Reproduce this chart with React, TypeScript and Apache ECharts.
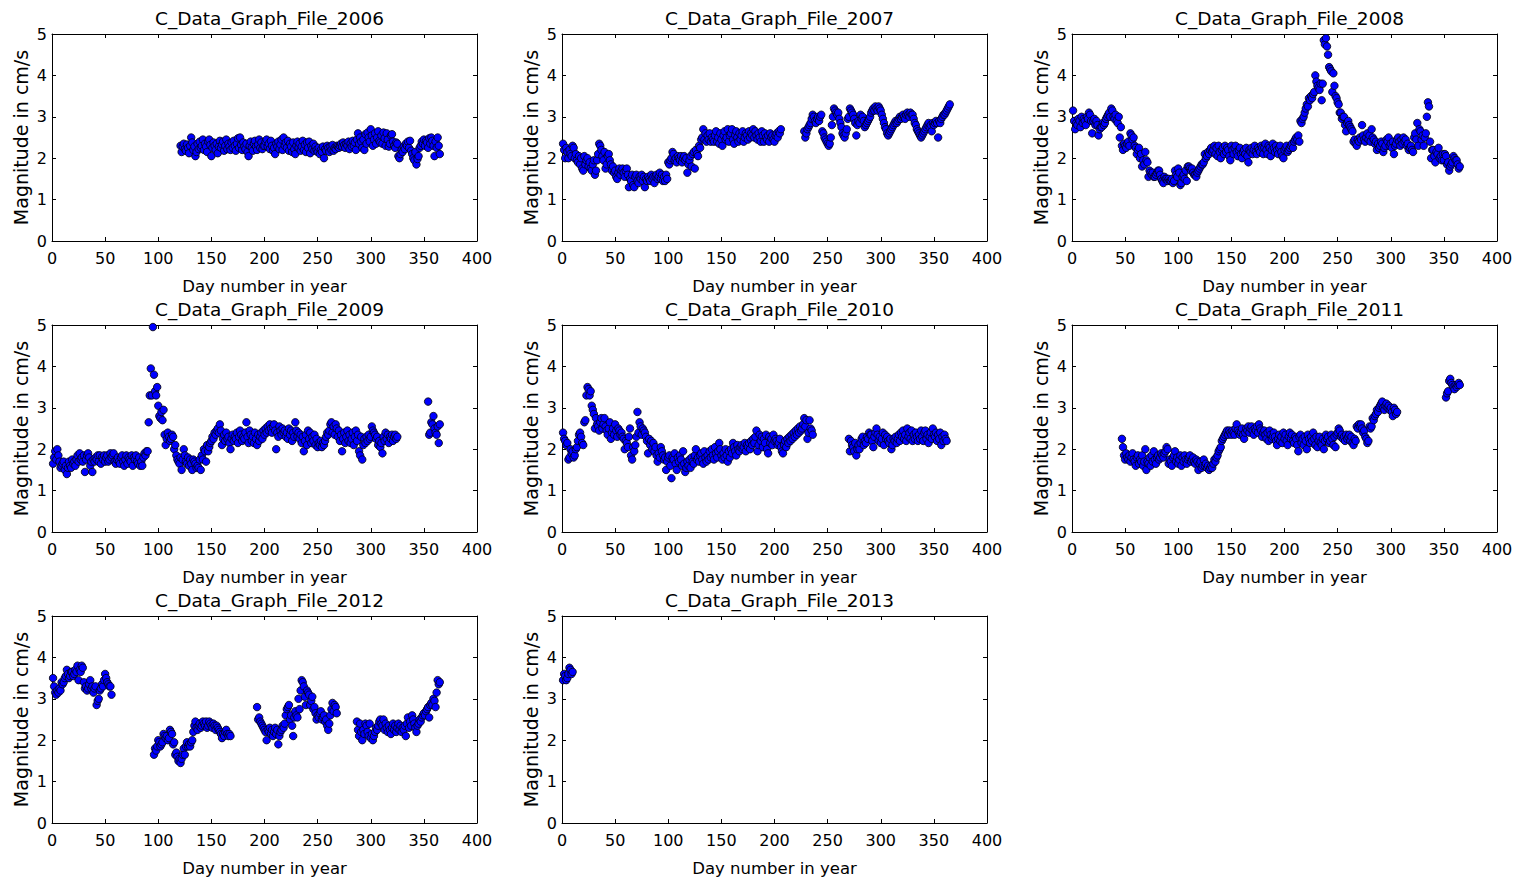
import React, { useEffect, useRef } from "react";
import * as echarts from "echarts";

// ---------- Data (day number in year -> magnitude in cm/s) ----------
const panelTitles = [
  "C_Data_Graph_File_2006",
  "C_Data_Graph_File_2007",
  "C_Data_Graph_File_2008",
  "C_Data_Graph_File_2009",
  "C_Data_Graph_File_2010",
  "C_Data_Graph_File_2011",
  "C_Data_Graph_File_2012",
  "C_Data_Graph_File_2013",
];

const xAxisName = "Day number in year";
const yAxisName = "Magnitude in cm/s";
const xMin = 0, xMax = 400, xStep = 50;
const yMin = 0, yMax = 5, yStep = 1;

// 2006
const start2006 = 121;
const mag2006 = [
  2.30, 2.15, 2.28, 2.35, 2.22, 2.18, 2.33, 2.25, 2.12, 2.30,
  2.50, 2.38, 2.20, 2.28, 2.05, 2.15, 2.35, 2.22, 2.40, 2.25,
  2.30, 2.45, 2.20, 2.35, 2.28, 2.15, 2.40, 2.45, 2.32, 2.05,
  2.25, 2.38, 2.30, 2.20, 2.35, 2.12, 2.28, 2.42, 2.25, 2.33,
  2.40, 2.18, 2.30, 2.45, 2.22, 2.35, 2.28, 2.20, 2.38, 2.25,
  2.42, 2.30, 2.18, 2.35, 2.48, 2.25, 2.50, 2.32, 2.20, 2.38,
  2.28, 2.22, 2.35, 2.15, 2.05, 2.30, 2.40, 2.25, 2.18, 2.35,
  2.42, 2.28, 2.20, 2.33, 2.45, 2.25, 2.38, 2.22, 2.30, 2.30,
  2.40, 2.45, 2.28, 2.35, 2.22, 2.42, 2.30, 2.18, 2.25, 2.10,
  2.35, 2.28, 2.40, 2.22, 2.33, 2.45, 2.20, 2.50, 2.30, 2.38,
  2.25, 2.42, 2.18, 2.35, 2.28, 2.15, 2.38, 2.22, 2.10, 2.30,
  2.40, 2.25, 2.35, 2.18, 2.28, 2.42, 2.20, 2.33, 2.15, 2.38,
  2.25, 2.40, 2.12, 2.30, 2.22, 2.35, 2.18, 2.28, 2.20, 2.15,
  2.25, 2.10, 2.20, 2.15, 2.28, 2.00, 2.22, 2.18, 2.30, 2.25,
  2.15, 2.28, 2.20, 2.32, 2.18, 2.25, 2.22, 2.30, 2.28, 2.25,
  2.30, 2.35, 2.28, 2.38, 2.32, 2.25, 2.35, 2.30, 2.40, 2.22,
  2.35, 2.28, 2.42, 2.30, 2.38, 2.20, 2.45, 2.60, 2.35, 2.50,
  2.40, 2.25, 2.45, 2.20, 2.58, 2.35, 2.62, 2.50, 2.40, 2.70,
  2.55, 2.30, 2.45, 2.60, 2.35, 2.50, 2.65, 2.42, 2.38, 2.55,
  2.35, 2.62, 2.48, 2.30, 2.60, 2.45, 2.28, 2.35, 2.55, 2.58,
  2.40, 2.30, 2.25, 2.38, 2.35, 2.05, 2.00, 2.10, 2.20, 2.15,
  2.28, 2.22, 2.35, 2.30, 2.40, 2.25, 2.42, 2.18, 2.10, 2.00,
  1.95, 2.15, 1.85, 1.98, 2.05, 2.25, 2.30, 2.40, 2.35, 2.45,
  2.30, 2.42, 2.38, 2.25, 2.48, 2.35, 2.50, 2.42, 2.30, 2.05,
  2.40, 2.25, 2.50, 2.30, 2.10,
];

// 2007
const start2007a = 1;
const mag2007a = [
  2.35, 2.20, 2.00, 2.25, 2.15, 2.00, 2.20, 2.10, 2.05, 2.30,
  2.25, 2.00, 2.10, 1.95, 1.90, 2.05, 1.85, 2.00, 1.75, 1.70,
  2.05, 1.85, 1.95, 2.00, 1.80, 1.90, 1.75, 1.70, 1.85, 1.95,
  1.60, 1.70, 1.95, 2.10, 2.35, 2.30, 2.20, 2.05, 1.95, 2.15,
  1.75, 1.85, 2.05, 2.10, 1.95, 1.85, 1.70, 1.80, 1.65, 1.70,
  1.55, 1.50, 1.65, 1.75, 1.60, 1.70, 1.75, 1.65, 1.55, 1.70,
  1.75, 1.60, 1.30, 1.50, 1.45, 1.60, 1.35, 1.30, 1.55, 1.60,
  1.45, 1.40, 1.55, 1.50, 1.60, 1.45, 1.55, 1.30, 1.50, 1.45,
  1.55, 1.50, 1.45, 1.60, 1.50, 1.55, 1.40, 1.55, 1.60, 1.50,
  1.55, 1.65, 1.50, 1.60, 1.45, 1.55, 1.45, 1.60, 1.50, 1.90,
  1.85, 1.95, 2.00, 2.15, 2.10, 1.95, 2.00, 1.90, 2.05, 2.00,
  1.95, 2.05, 1.90, 2.00, 2.05, 1.95, 2.00, 1.65, 1.85, 1.95,
  2.05, 1.80, 2.10, 2.15, 1.75, 2.20, 2.10, 2.05, 2.30, 2.25,
  2.45, 2.50, 2.70, 2.45, 2.60, 2.40, 2.55, 2.45, 2.60, 2.40,
  2.50, 2.45, 2.40, 2.55, 2.65, 2.40, 2.50, 2.35, 2.60, 2.45,
  2.30, 2.55, 2.65, 2.45, 2.50, 2.70, 2.40, 2.55, 2.60, 2.70,
  2.45, 2.35, 2.55, 2.65, 2.50, 2.40, 2.60, 2.45, 2.55, 2.65,
  2.40, 2.50, 2.60, 2.55, 2.45, 2.65, 2.50, 2.60, 2.55, 2.70,
  2.50, 2.65, 2.55, 2.45, 2.60, 2.50, 2.40, 2.65, 2.55, 2.40,
  2.60, 2.50, 2.45, 2.55, 2.40, 2.60, 2.50, 2.55, 2.45, 2.40,
  2.55, 2.60, 2.50, 2.65, 2.60, 2.70,
];
const start2007b = 228;
const mag2007b = [
  2.65, 2.50, 2.60, 2.70, 2.75, 2.80, 2.85, 2.95, 3.05, 3.00, 2.90, 2.85, 2.95,
  3.00, 2.90, 3.00, 3.05, 2.65, 2.60, 2.50, 2.45, 2.40, 2.35,
  2.30, 2.35, 2.50, 2.80, 3.00, 3.20, 3.15, 3.10, 3.05, 3.10,
  2.95, 2.85, 2.75, 2.60, 2.55, 2.50, 2.60, 2.70, 2.95, 3.00,
  3.20, 3.15, 3.10, 3.05, 2.95, 2.85, 2.55, 2.80, 2.90, 2.85,
  3.05, 2.95, 3.00, 2.90, 2.75, 2.80, 2.85, 2.90, 2.95, 3.00,
  3.10, 3.15, 3.20, 3.15, 3.25, 3.20, 3.15, 3.25, 3.20, 3.15,
  3.05, 2.95, 2.85, 2.75, 2.70, 2.60, 2.55, 2.60, 2.65, 2.70,
  2.75, 2.80, 2.85, 2.90, 2.85, 2.90, 2.95, 3.00, 2.95, 3.00,
  3.05, 3.00, 2.95, 3.05, 3.10, 3.05, 3.00, 3.10, 3.05, 3.05,
  2.95, 2.85, 2.80, 2.70, 2.65, 2.60, 2.55, 2.50, 2.55, 2.60,
  2.65, 2.70, 2.75, 2.80, 2.85, 2.75, 2.80, 2.65, 2.85, 2.80,
  2.85, 2.90, 2.85, 2.50, 2.90, 2.85, 2.95, 3.00, 3.05, 3.05,
  3.10, 3.15, 3.20, 3.25, 3.30,
];

// 2008
const start2008 = 1;
const mag2008 = [
  3.15, 2.90, 2.70, 2.85, 2.80, 2.95, 2.90, 2.75, 3.00, 2.85,
  2.95, 2.90, 2.80, 3.00, 2.95, 3.10, 3.05, 2.90, 2.60, 2.90,
  2.95, 2.80, 2.90, 2.80, 2.55, 2.70, 2.75, 2.75, 2.85, 2.80,
  2.85, 2.95, 3.00, 3.05, 3.10, 3.00, 3.20, 3.15, 3.00, 2.95,
  3.05, 2.90, 2.85, 3.00, 2.50, 2.75, 2.30, 2.20, 2.35, 2.30,
  2.25, 2.35, 2.40, 2.30, 2.60, 2.55, 2.45, 2.50, 2.30, 2.25,
  2.10, 2.20, 2.25, 2.00, 2.10, 1.80, 1.95, 1.85, 2.15, 1.95,
  1.90, 1.55, 1.70, 1.65, 1.60, 1.65, 1.55, 1.55, 1.60, 1.65,
  1.70, 1.70, 1.60, 1.50, 1.45, 1.40, 1.55, 1.50, 1.50, 1.45,
  1.50, 1.45, 1.45, 1.50, 1.40, 1.45, 1.70, 1.60, 1.55, 1.75,
  1.65, 1.35, 1.40, 1.55, 1.60, 1.50, 1.70, 1.45, 1.80, 1.80,
  1.75, 1.70, 1.75, 1.65, 1.60, 1.60, 1.55, 1.65, 1.70, 1.75,
  1.80, 1.85, 1.85, 1.90, 2.10, 2.00, 2.05, 2.15, 2.10, 2.20,
  2.25, 2.15, 2.20, 2.30, 2.10, 2.25, 2.05, 2.30, 2.15, 2.00,
  2.20, 2.25, 2.10, 2.30, 2.15, 2.25, 2.20, 2.05, 1.95, 2.30,
  2.20, 2.10, 2.25, 2.30, 2.15, 2.05, 2.20, 2.25, 2.10, 2.00,
  2.15, 2.20, 2.10, 2.25, 2.05, 1.90, 2.20, 2.15, 2.25, 2.10,
  2.20, 2.30, 2.15, 2.10, 2.25, 2.20, 2.15, 2.30, 2.25, 2.10,
  2.25, 2.35, 2.20, 2.10, 2.30, 2.25, 2.05, 2.20, 2.35, 2.25,
  2.15, 2.30, 2.20, 2.10, 2.25, 2.30, 2.15, 2.05, 2.00, 2.20,
  2.25, 2.30, 2.15, 2.20, 2.25, 2.30, 2.35, 2.25, 2.40, 2.45,
  2.50, 2.45, 2.55, 2.40, 2.90, 2.85, 2.95, 3.00, 3.10, 3.20,
  3.30, 3.25, 3.45, 3.40, 3.50, 3.45, 3.55, 3.60, 4.00, 3.85,
  3.75, 3.70, 3.65, 3.80, 3.40, 3.80, 4.85, 4.75, 4.90, 4.70,
  4.50, 4.20, 4.15, 4.10, 3.60, 4.05, 3.75, 3.50, 3.45, 3.35,
  3.30, 3.10, 3.10, 2.95, 3.00, 3.00, 2.80, 2.65, 2.85, 2.90,
  2.80, 2.75, 2.70, 2.65, 2.40, 2.45, 2.35, 2.30, 2.45, 2.40,
  2.50, 2.45, 2.80, 2.55, 2.45, 2.40, 2.50, 2.60, 2.45, 2.55,
  2.40, 2.70, 2.50, 2.45, 2.35, 2.40, 2.20, 2.35, 2.25, 2.30,
  2.40, 2.35, 2.15, 2.25, 2.30, 2.45, 2.40, 2.50, 2.30, 2.35,
  2.25, 2.40, 2.10, 2.30, 2.35, 2.45, 2.50, 2.40, 2.30, 2.45,
  2.35, 2.50, 2.40, 2.45, 2.30, 2.35, 2.20, 2.25, 2.30, 2.20,
  2.15, 2.50, 2.60, 2.45, 2.85, 2.30, 2.70, 2.65, 2.45, 2.55,
  2.30, 2.50, 2.60, 3.00, 3.35, 3.25, 2.40, 2.00, 2.20, 2.20,
  2.05, 1.90, 2.15, 2.10, 2.25, 2.00, 2.05, 1.95, 2.10, 1.95,
  2.10, 2.05, 1.85, 1.90, 1.70, 1.80, 1.85, 1.90, 2.05, 2.00,
  1.95, 1.95, 1.85, 1.75, 1.80,
];

// 2009
const start2009a = 1;
const mag2009a = [
  1.65, 1.80, 1.95, 1.75, 2.00, 1.85, 1.70, 1.55, 1.60, 1.65,
  1.70, 1.50, 1.60, 1.40, 1.55, 1.70, 1.60, 1.55, 1.75, 1.65,
  1.70, 1.60, 1.75, 1.85, 1.70, 1.90, 1.75, 1.80, 1.70, 1.85,
  1.45, 1.75, 1.85, 1.90, 1.80, 1.60, 1.70, 1.45, 1.75, 1.70,
  1.80, 1.75, 1.85, 1.70, 1.85, 1.65, 1.80, 1.75, 1.85, 1.70,
  1.80, 1.85, 1.70, 1.75, 1.90, 1.80, 1.85, 1.90, 1.70, 1.65,
  1.75, 1.80, 1.70, 1.65, 1.80, 1.85, 1.70, 1.60, 1.75, 1.85,
  1.65, 1.80, 1.75, 1.70, 1.85, 1.60, 1.80, 1.75, 1.85, 1.70,
  1.65, 1.80, 1.60, 1.70, 1.60, 1.80, 1.90, 1.85, 1.95, 1.95,
  2.65, 3.30, 3.95, 3.30, 4.95, 3.80, 3.40, 3.30, 3.50, 3.05,
  2.80, 2.75, 2.90, 2.70, 2.95, 2.35, 2.10, 2.25, 2.40, 2.30,
  2.20, 2.25, 2.35, 2.30, 2.00, 2.10, 1.85, 1.75, 1.70, 1.65,
  1.80, 1.50, 1.75, 2.00, 1.85, 1.70, 1.65, 1.80, 1.60, 1.75,
  1.65, 1.50, 1.75, 1.70, 1.65, 1.55, 1.60, 1.55, 1.75, 1.50,
  1.85, 1.75, 2.00, 1.95, 1.70, 2.10, 1.95, 2.05, 2.15, 2.20,
  2.30, 2.25, 2.40, 2.35, 2.45, 2.50, 2.40, 2.60, 2.45, 2.10,
  2.25, 2.35, 2.20, 2.40, 2.25, 2.30, 2.15, 2.00, 2.25, 2.35,
  2.20, 2.30, 2.25, 2.40, 2.15, 2.30, 2.45, 2.35, 2.20, 2.30,
  2.25, 2.40, 2.65, 2.30, 2.15, 2.45, 2.35, 2.20, 2.30, 2.15,
  2.40, 2.25, 2.10, 2.35, 2.20, 2.30, 2.40, 2.25, 2.45, 2.35,
  2.50, 2.40, 2.55, 2.45, 2.60, 2.50, 2.40, 2.55, 2.60, 2.45,
  2.00, 2.40, 2.30, 2.55, 2.45, 2.35, 2.50, 2.40, 2.45, 2.30,
  2.40, 2.25, 2.50, 2.35, 2.45, 2.20, 2.40, 2.30, 2.65, 2.45,
  2.30, 2.40, 2.25, 2.35, 2.15, 2.30, 1.95, 2.20, 2.35, 2.10,
  2.45, 2.25, 2.40, 2.15, 2.30, 2.20, 2.35, 2.10, 2.25, 2.05,
  2.15, 2.10, 2.20, 2.05, 2.15, 2.10, 2.20, 2.30, 2.40, 2.35,
  2.45, 2.60, 2.65, 2.40, 2.55, 2.35, 2.60, 2.50, 2.30, 2.45,
  2.20, 2.35, 1.95, 2.25, 2.40, 2.15, 2.30, 2.45, 2.20, 2.35,
  2.15, 2.25, 2.40, 2.10, 2.30, 2.45, 2.20, 2.35, 1.95, 1.85,
  2.30, 1.75, 2.10, 2.25, 2.15, 2.30, 2.20, 2.35, 2.25, 2.30,
  2.55, 2.45, 2.40, 2.35, 2.25, 2.30, 2.10, 2.20, 2.05, 2.15,
  1.90, 2.30, 2.20, 2.40, 2.25, 2.35, 2.15, 2.30, 2.25, 2.35,
  2.20, 2.30, 2.35, 2.25, 2.30,
];
const start2009b = 354;
const mag2009b = [3.15, 2.35, 2.40, 2.65, 2.60, 2.80, 2.50, 2.40, 2.35, 2.55, 2.15, 2.60];

// 2010
const start2010a = 1;
const mag2010a = [
  2.40, 2.25, 2.20, 2.10, 2.15, 1.75, 1.80, 2.00, 1.90, 1.95,
  1.80, 1.85, 2.00, 2.05, 2.20, 2.35, 2.40, 2.30, 2.15, 2.10,
  2.65, 2.70, 3.30, 3.50, 3.45, 3.30, 3.40, 3.05, 2.95, 2.85,
  2.50, 2.75, 2.60, 2.55, 2.45, 2.65, 2.75, 2.50, 2.60, 2.75,
  2.55, 2.45, 2.35, 2.50, 2.65, 2.25, 2.40, 2.50, 2.35, 2.60,
  2.45, 2.30, 2.50, 2.45, 2.35, 2.40, 2.30, 2.25, 2.00, 2.20,
  2.15, 2.05, 2.30, 2.50, 1.85, 1.75, 2.05, 1.95, 2.10, 2.30,
  2.90, 2.40, 2.65, 2.55, 2.35, 2.50, 2.45, 2.40, 2.30, 2.20,
  1.90, 2.25, 2.10, 2.20, 2.00, 2.15, 1.95, 2.05, 1.85, 1.70,
  1.90, 1.80, 2.05, 1.95, 1.85, 1.75, 1.80, 1.50, 1.70, 1.80,
  1.85, 1.60, 1.30, 1.80, 1.75, 1.90, 1.65, 1.50, 1.80, 1.70,
  1.85, 1.75, 1.60, 1.95, 1.65, 1.45, 1.55, 1.70, 1.60, 1.75,
  1.55, 1.80, 1.70, 1.65, 1.85, 2.00, 1.75, 1.80, 1.70, 1.85,
  1.90, 1.75, 1.65, 1.95, 1.80, 1.70, 1.85, 1.75, 1.95, 1.80,
  2.00, 1.85, 1.75, 2.05, 1.90, 1.80, 1.95, 2.15, 2.00, 1.85,
  1.75, 1.90, 1.80, 2.00, 1.85, 1.70, 1.95, 1.80, 2.00, 1.90,
  2.15, 2.05, 1.95, 1.85, 2.10, 2.00, 1.95, 2.05, 2.10, 2.00,
  2.05, 2.15, 1.95, 2.10, 2.05, 2.15, 2.00, 2.20, 2.10, 2.25,
  2.15, 2.30, 2.45, 1.95, 2.10, 2.35, 2.20, 2.30, 2.05, 2.25,
  2.15, 2.35, 2.00, 1.90, 2.30, 2.15, 2.25, 2.10, 2.35, 2.20,
  2.25, 2.20, 2.10, 2.15, 2.25, 2.05, 1.95, 1.90, 2.10, 2.20,
  2.05, 2.25, 2.15, 2.30, 2.20, 2.35, 2.25, 2.40, 2.30, 2.45,
  2.35, 2.50, 2.40, 2.55, 2.45, 2.50, 2.60, 2.75, 2.55, 2.70,
  2.25, 2.40, 2.70, 2.50, 2.45, 2.35,
];
const start2010b = 270;
const mag2010b = [
  2.25, 1.95, 2.20, 2.10, 2.05, 1.95, 2.15, 1.85, 2.00, 2.10, 2.00,
  2.15, 2.25, 2.30, 2.10, 2.20, 2.15, 2.30, 2.25, 2.40, 2.35,
  2.35, 2.20, 2.05, 2.30, 2.40, 2.50, 2.35, 2.20, 2.30, 2.15,
  2.25, 2.40, 2.10, 2.35, 2.25, 2.30, 2.20, 2.15, 2.25, 2.00,
  2.10, 2.25, 2.20, 2.30, 2.15, 2.25, 2.35, 2.20, 2.40, 2.30,
  2.45, 2.25, 2.35, 2.20, 2.50, 2.30, 2.40, 2.25, 2.45, 2.20,
  2.35, 2.25, 2.40, 2.30, 2.20, 2.35, 2.25, 2.45, 2.30, 2.20,
  2.40, 2.45, 2.25, 2.35, 2.15, 2.30, 2.40, 2.25, 2.50, 2.35,
  2.30, 2.40, 2.20, 2.35, 2.25, 2.40, 2.10, 2.30, 2.20, 2.35, 2.25, 2.20,
];

// 2011
const start2011a = 47;
const mag2011a = [
  2.25, 2.05, 1.85, 1.75,
  1.90, 1.80, 1.75, 1.85, 1.70, 1.80, 1.90, 1.75, 1.70, 1.60,
  1.80, 1.85, 1.65, 1.75, 1.70, 1.85, 1.60, 1.70, 2.00, 1.50,
  1.70, 1.65, 1.80, 1.60, 1.85, 1.70, 1.95, 1.75, 1.65, 1.80,
  1.85, 1.75, 1.80, 1.90, 1.85, 1.80, 1.90, 1.95, 2.05, 2.00,
  1.65, 1.75, 1.70, 1.60, 1.80, 1.85, 1.95, 1.70, 1.80, 1.65,
  1.75, 1.85, 1.60, 1.80, 1.70, 1.85, 1.75, 1.65, 1.75, 1.80,
  1.85, 1.70, 1.75, 1.80, 1.70, 1.65, 1.75, 1.70, 1.50, 1.65,
  1.70, 1.55, 1.60, 1.75, 1.60, 1.65, 1.55, 1.60, 1.50, 1.55,
  1.60, 1.55, 1.65, 1.75, 1.70, 1.80, 1.85, 1.95, 2.00, 2.05,
  2.20, 2.25, 2.30, 2.35, 2.40, 2.45, 2.35, 2.45, 2.40, 2.35,
  2.45, 2.40, 2.35, 2.50, 2.60, 2.45, 2.40, 2.35, 2.40, 2.50,
  2.35, 2.25, 2.40, 2.50, 2.45, 2.55, 2.40, 2.50, 2.55, 2.45,
  2.35, 2.50, 2.45, 2.55, 2.40, 2.60, 2.50, 2.45, 2.30, 2.40,
  2.45, 2.35, 2.25, 2.40, 2.20, 2.45, 2.35, 2.25, 2.30, 2.40,
  2.30, 2.20, 2.10, 2.25, 2.35, 2.20, 2.30, 2.15, 2.40, 2.25,
  2.35, 2.20, 2.10, 2.30, 2.40, 2.25, 2.35, 2.20, 2.15, 2.30,
  2.25, 2.10, 1.95, 2.30, 2.35, 2.15, 2.25, 2.10, 2.30, 2.20,
  2.00, 2.35, 2.25, 2.15, 2.30, 2.20, 2.40, 2.25, 2.10, 2.30,
  2.05, 2.20, 2.30, 2.15, 2.10, 2.25, 2.00, 2.20, 2.35, 2.25,
  2.30, 2.15, 2.20, 2.35, 2.25, 2.10, 2.30, 2.05, 2.35, 2.40,
  2.50, 2.45, 2.30, 2.35, 2.25, 2.30, 2.20, 2.35, 2.25, 2.30,
  2.35, 2.20, 2.30, 2.15, 2.10, 2.25, 2.20, 2.55, 2.50, 2.60,
  2.55, 2.60, 2.50, 2.40, 2.45, 2.30, 2.25, 2.15, 2.20, 2.55,
  2.50, 2.55, 2.75, 2.70, 2.80, 2.85, 2.95, 2.90, 3.00, 3.05,
  3.10, 3.15, 3.00, 2.95, 3.05, 3.10, 3.00, 3.05, 2.95, 3.00,
  2.90, 2.80, 3.00, 2.95, 2.85, 2.90,
];
const start2011b = 352;
const mag2011b = [3.25, 3.35, 3.40, 3.65, 3.70, 3.60, 3.55, 3.50, 3.45, 3.55, 3.50, 3.55, 3.60, 3.55];

// 2012
const start2012a = 1;
const mag2012a = [
  3.50, 3.30, 3.15, 3.10, 3.20, 3.15, 3.25, 3.20, 3.40, 3.35,
  3.40, 3.50, 3.55, 3.70, 3.60, 3.50, 3.55, 3.65, 3.65, 3.55,
  3.60, 3.70, 3.65, 3.80, 3.45, 3.70, 3.65, 3.80, 3.75, 3.40,
  3.25, 3.30, 3.20, 3.25, 3.35, 3.45, 3.25, 3.30, 3.15, 3.25,
  3.30, 2.85, 2.95, 3.00, 3.20, 3.25, 3.35, 3.30, 3.45, 3.60,
  3.50, 3.40, 3.35, 3.30, 3.30, 3.10,
];
const start2012b = 96;
const mag2012b = [
  1.65, 1.80, 1.75, 1.85, 2.00,
  1.95, 1.85, 1.90, 1.95, 2.15, 2.10, 2.05, 2.10, 2.00, 2.05,
  2.25, 2.20, 2.15, 1.90, 1.95, 1.65, 1.70, 1.60, 1.50, 1.55,
  1.45, 1.55, 1.65, 1.80, 1.65, 1.85, 1.95, 1.85, 1.90, 1.85,
  1.95, 2.00, 2.20, 2.35, 2.45, 2.30, 2.25, 2.35, 2.40, 2.30,
  2.35, 2.45, 2.40, 2.35, 2.45, 2.30, 2.35, 2.45, 2.40, 2.35,
  2.30, 2.40, 2.35, 2.25, 2.35, 2.30, 2.25, 2.20, 2.15, 2.05,
  2.15, 2.10, 2.20, 2.25, 2.15, 2.10, 2.15, 2.10,
];
const start2012c = 193;
const mag2012c = [
  2.80, 2.50, 2.55, 2.45, 2.40, 2.35, 2.30, 2.25,
  2.20, 2.00, 2.25, 2.20, 2.30, 2.15, 2.25, 2.10, 2.20, 2.30,
  2.15, 2.25, 1.90, 2.10, 2.20, 2.25, 2.35, 2.30, 2.40, 2.60,
  2.75, 2.80, 2.85, 2.50, 2.60, 2.35, 2.10, 2.55, 2.70, 2.60,
  2.55, 3.00, 2.75, 3.20, 3.45, 3.40, 3.30, 3.05, 2.85, 3.20,
  3.15, 3.10, 2.85, 2.95, 3.05, 2.75, 2.80, 2.65, 2.50, 2.60,
  2.55, 2.65, 2.70, 2.50, 2.55, 2.60, 2.45, 2.50, 2.35, 2.25,
  2.40, 2.60, 2.75, 2.90, 2.70, 2.85, 2.80, 2.65,
];
const start2012d = 287;
const mag2012d = [
  2.45, 2.25, 2.10, 2.40,
  2.20, 2.00, 2.25, 2.15, 2.40, 2.35, 2.20, 2.10, 2.40, 2.05,
  2.15, 2.00, 2.10, 2.20, 2.30, 2.25, 2.35, 2.45, 2.50, 2.40,
  2.35, 2.50, 2.25, 2.40, 2.30, 2.20, 2.35, 2.25, 2.15, 2.30,
  2.40, 2.25, 2.35, 2.20, 2.30, 2.40, 2.25, 2.35, 2.20, 2.30,
  2.25, 2.35, 2.10, 2.40, 2.55, 2.30, 2.45, 2.35, 2.60, 2.50,
  2.40, 2.30, 2.20, 2.35, 2.40, 2.50, 2.45, 2.55, 2.60, 2.65,
  2.60, 2.70, 2.75, 2.80, 2.55, 2.85, 2.90, 2.85, 3.00, 2.95,
  2.80, 3.15, 3.45, 3.35, 3.40,
];

// 2013
const start2013 = 1;
const mag2013 = [3.45, 3.60, 3.55, 3.45, 3.50, 3.60, 3.75, 3.70, 3.60, 3.65];

type Segment = { start: number; values: number[] };
const panelSegments: Segment[][] = [
  [{ start: start2006, values: mag2006 }],
  [{ start: start2007a, values: mag2007a }, { start: start2007b, values: mag2007b }],
  [{ start: start2008, values: mag2008 }],
  [{ start: start2009a, values: mag2009a }, { start: start2009b, values: mag2009b }],
  [{ start: start2010a, values: mag2010a }, { start: start2010b, values: mag2010b }],
  [{ start: start2011a, values: mag2011a }, { start: start2011b, values: mag2011b }],
  [
    { start: start2012a, values: mag2012a },
    { start: start2012b, values: mag2012b },
    { start: start2012c, values: mag2012c },
    { start: start2012d, values: mag2012d },
  ],
  [{ start: start2013, values: mag2013 }],
];

// ---------- Layout ----------
const GRID_LEFT = [52, 562, 1072];
const GRID_TOP = [34, 325, 616];
const GRID_W = 425;
const GRID_H = 207;
const FONT = "DejaVu Sans";

function toPoints(segs: Segment[]) {
  const pts: number[][] = [];
  segs.forEach((s) => s.values.forEach((v, i) => pts.push([s.start + i, v])));
  return pts;
}

function buildOption() {
  const grid: any[] = [];
  const xAxis: any[] = [];
  const yAxis: any[] = [];
  const series: any[] = [];
  const title: any[] = [];
  const line = { show: true, onZero: false, lineStyle: { color: "#000", width: 1 } };
  const tick = { show: true, inside: true, length: 4, lineStyle: { color: "#000", width: 1 } };

  panelTitles.forEach((t, i) => {
    const col = i % 3;
    const row = Math.floor(i / 3);
    const left = GRID_LEFT[col];
    const top = GRID_TOP[row];
    grid.push({ left, top, width: GRID_W, height: GRID_H, containLabel: false });
    title.push({
      text: t,
      left: left + GRID_W / 2,
      top: top - 30,
      textAlign: "center",
      textStyle: { fontFamily: FONT, fontSize: 18.5, fontWeight: "normal", color: "#000" },
    });
    const xBase = {
      gridIndex: i, type: "value", min: xMin, max: xMax, interval: xStep,
      axisLine: line, axisTick: tick, splitLine: { show: false },
    };
    const yBase = {
      gridIndex: i, type: "value", min: yMin, max: yMax, interval: yStep,
      axisLine: line, axisTick: tick, splitLine: { show: false },
    };
    xAxis.push({
      ...xBase, position: "bottom",
      axisLabel: { color: "#000", fontFamily: FONT, fontSize: 16, margin: 9, showMinLabel: true, showMaxLabel: true },
      name: xAxisName, nameLocation: "middle", nameGap: 37,
      nameTextStyle: { color: "#000", fontFamily: FONT, fontSize: 16.5 },
    });
    xAxis.push({ ...xBase, position: "top", axisLabel: { show: false } });
    yAxis.push({
      ...yBase, position: "left",
      axisLabel: { color: "#000", fontFamily: FONT, fontSize: 16, margin: 5, showMinLabel: true, showMaxLabel: true },
      name: yAxisName, nameLocation: "middle", nameGap: 22, nameRotate: 90,
      nameTextStyle: { color: "#000", fontFamily: FONT, fontSize: 19 },
    });
    yAxis.push({ ...yBase, position: "right", axisLabel: { show: false } });
    series.push({
      type: "scatter",
      xAxisIndex: 2 * i,
      yAxisIndex: 2 * i,
      data: toPoints(panelSegments[i]),
      symbol: "circle",
      symbolSize: 7.5,
      progressive: 0,
      silent: true,
      itemStyle: { color: "#0000ff", borderColor: "#000", borderWidth: 0.8, opacity: 1 },
    });
  });

  return {
    animation: false,
    backgroundColor: "#fff",
    title,
    grid,
    xAxis,
    yAxis,
    series,
  };
}

export default function App() {
  const ref = useRef<HTMLDivElement>(null);
  useEffect(() => {
    if (!ref.current) return;
    const chart = echarts.init(ref.current, undefined, { renderer: "svg" });
    chart.setOption(buildOption() as any);
    return () => chart.dispose();
  }, []);
  return (
    <div
      ref={ref}
      style={{ position: "absolute", left: 0, top: 0, width: 1520, height: 886, background: "#fff" }}
    />
  );
}
